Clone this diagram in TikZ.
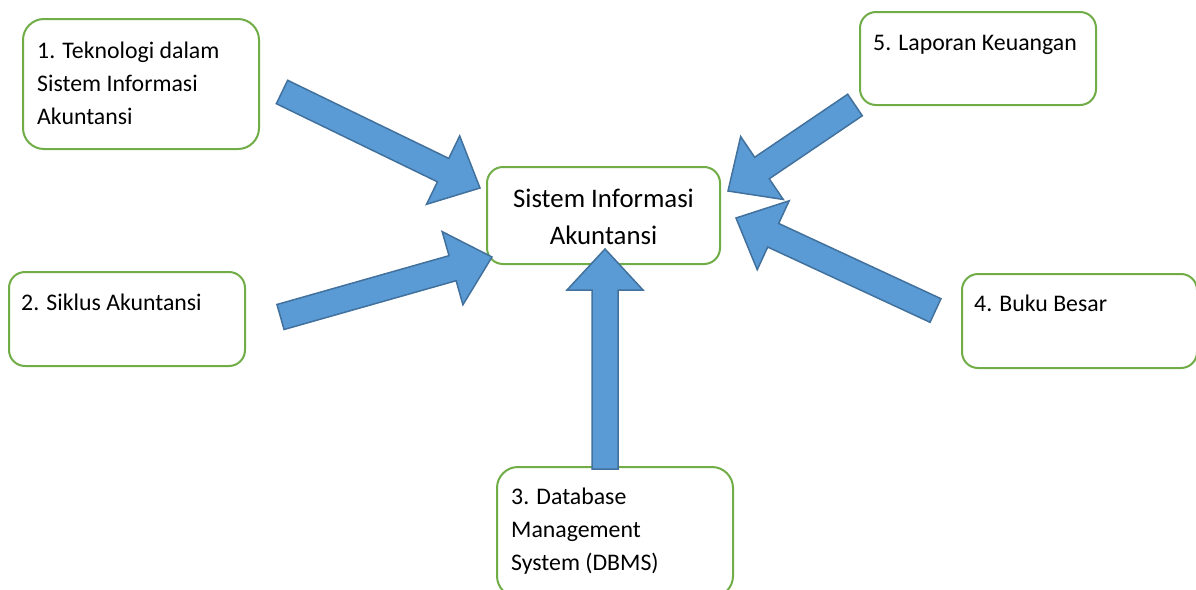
\documentclass[tikz,border=0pt]{standalone}
\usepackage{fontspec}
\setmainfont{Carlito}
\usetikzlibrary{calc}
\definecolor{boxgreen}{HTML}{70AD47}
\definecolor{arrowfill}{HTML}{5B9BD5}
\definecolor{arrowline}{HTML}{41719C}
\tikzset{
  topic/.style = {
    draw=boxgreen, line width=2pt, fill=white,
    rectangle, rounded corners=16pt, inner sep=0pt
  },
  topictext/.style = {
    anchor=base west, align=left, inner sep=0pt,
    font=\fontsize{23.8}{33}\selectfont
  },
  bigarrow/.style = {
    fill=arrowfill, draw=arrowline, line width=1.5pt, line join=miter
  }
}
% block arrow from #1 (tail) to #2 (tip)
\newcommand{\blockarrow}[2]{
  \coordinate (neck) at ($(#2)!41pt!(#1)$);
  \filldraw[bigarrow] ($(#1)!13pt!90:(#2)$) -- ($(neck)!13pt!90:(#2)$)
    -- ($(neck)!38pt!90:(#2)$) -- (#2) -- ($(neck)!38pt!-90:(#2)$)
    -- ($(neck)!13pt!-90:(#2)$) -- ($(#1)!13pt!-90:(#2)$) -- cycle;
}

\begin{document}
\begin{tikzpicture}[x=1pt,y=-1pt]
    \useasboundingbox (0,0) rectangle (1196,589);

    % boxes
    \node[topic,minimum width=236pt,minimum height=130pt,rounded corners=21pt] (tek) at (141,84) {};
    \node[topic,minimum width=236pt,minimum height=94pt] (siklus) at (127,319) {};
    \node[topic,minimum width=236pt,minimum height=130pt,rounded corners=21pt] (dbms) at (615,532) {};
    \node[topic,minimum width=235pt,minimum height=94pt] (buku) at (1079.5,321) {};
    \node[topic,minimum width=236pt,minimum height=93pt] (lapor) at (978,58.5) {};
    \node[topic,minimum width=233pt,minimum height=97pt] (sia) at (603.5,215.5) {};

    % texts (base = last line)
    \node[topictext] (tek-t) at ([xshift=15pt,yshift=-106pt]tek.north west)
      {1. Teknologi dalam\\Sistem Informasi\\Akuntansi};
    \node[topictext] (siklus-t) at ([xshift=13pt,yshift=-39pt]siklus.north west)
      {2. Siklus Akuntansi};
    \node[topictext] (dbms-t) at ([xshift=15pt,yshift=-104pt]dbms.north west)
      {3. Database\\Management\\System (DBMS)};
    \node[topictext] (buku-t) at ([xshift=13pt,yshift=-38pt]buku.north west)
      {4. Buku Besar};
    \node[topictext] (lapor-t) at ([xshift=14pt,yshift=-39pt]lapor.north west)
      {5. Laporan Keuangan};
    \node[anchor=base, align=center, inner sep=0pt,
      font=\fontsize{26.8}{37}\selectfont] (sia-t) at ([yshift=-78pt]sia.north)
      {Sistem Informasi\\Akuntansi};

    % arrows
    \coordinate (tek-a) at (282,92);     \coordinate (tek-b) at (480,188);
    \coordinate (siklus-a) at (280.5,317); \coordinate (siklus-b) at (492,257);
    \coordinate (dbms-a) at (605,469);   \coordinate (dbms-b) at (605,249);
    \coordinate (buku-a) at (935.5,310.5); \coordinate (buku-b) at (736,218);
    \coordinate (lapor-a) at (855,105);  \coordinate (lapor-b) at (728,191);
    \blockarrow{tek-a}{tek-b}
    \blockarrow{siklus-a}{siklus-b}
    \blockarrow{dbms-a}{dbms-b}
    \blockarrow{buku-a}{buku-b}
    \blockarrow{lapor-a}{lapor-b}
\end{tikzpicture}
\end{document}
